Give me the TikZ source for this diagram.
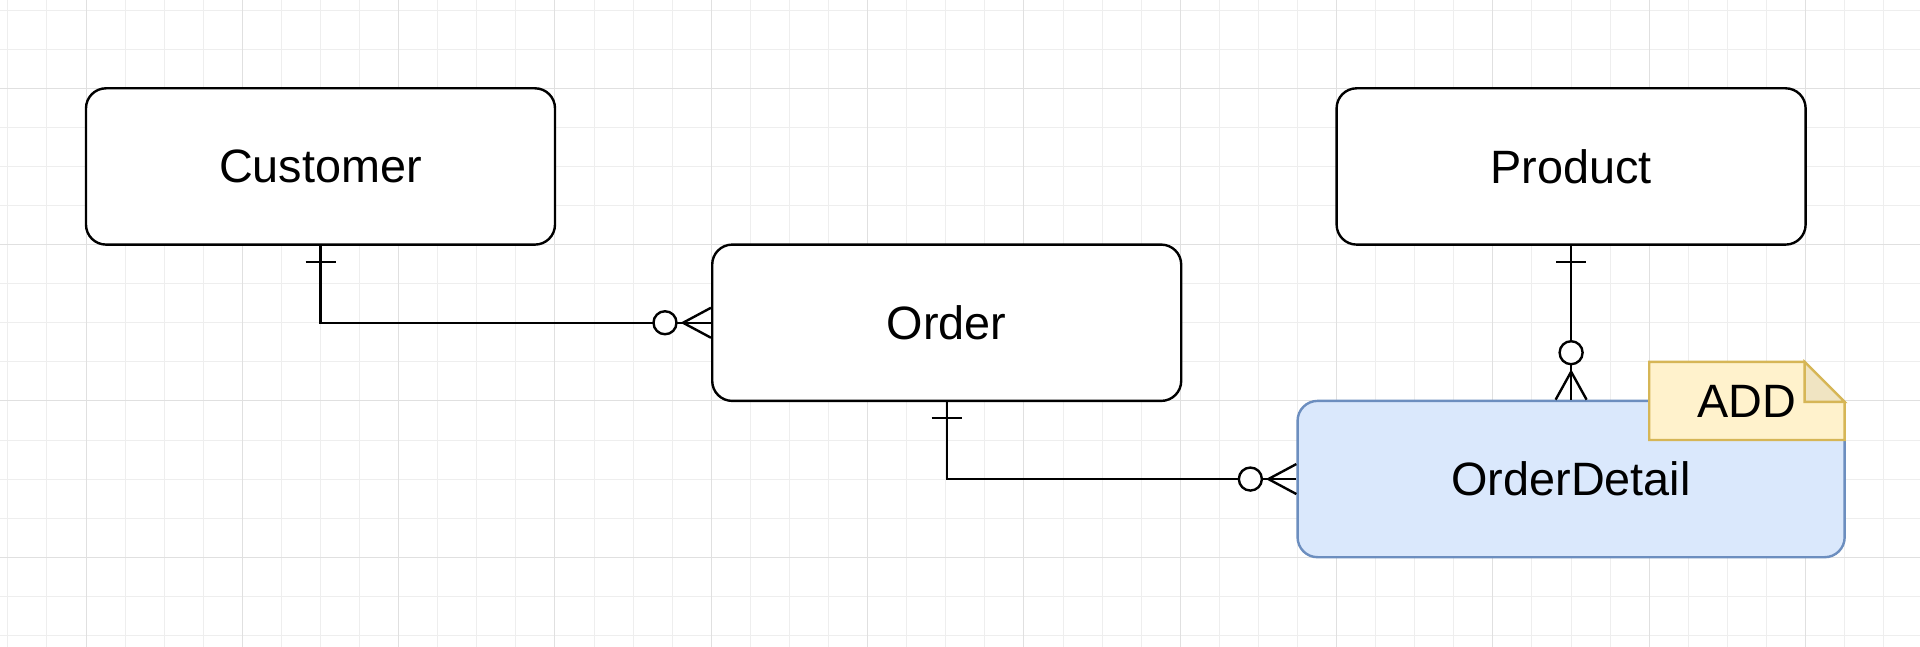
\documentclass[tikz,border=0pt]{standalone}
\usepackage{fontspec}
\setmainfont{Liberation Sans}
\usetikzlibrary{calc}
\definecolor{gridminor}{HTML}{EEEEEE}
\definecolor{gridmajor}{HTML}{E0E0E0}
\definecolor{bluefill}{HTML}{DAE8FC}
\definecolor{bluedraw}{HTML}{6C8EBF}
\definecolor{notefill}{HTML}{FFF2CC}
\definecolor{notedraw}{HTML}{D6B656}
\definecolor{notefold}{HTML}{F0E4C2}
\begin{document}
\begin{tikzpicture}[x=0.5pt,y=-0.5pt,
  lbl/.style={font=\fontsize{23.4}{28}\selectfont, text=black},
  entity/.style={lbl, draw=black, line width=1.2pt, rounded corners=10pt, fill=white,
    minimum width=234.5pt, minimum height=78.15pt, inner sep=0pt},
  rel/.style={draw=black, line width=1.2pt},
  zero/.style={draw=black, line width=1.2pt, fill=white},
  minorline/.style={draw=gridminor, line width=0.5pt},
  majorline/.style={draw=gridmajor, line width=0.5pt},
  notebox/.style={fill=notefill, draw=notedraw, line width=1.2pt, line join=miter},
  notefoldst/.style={fill=notefold, draw=notedraw, line width=1.2pt, line join=miter}
]
\useasboundingbox (0,0) rectangle (1920,647);
\fill[white] (0,0) rectangle (1920,647);
% grid
\foreach \k in {-2,...,46} \path[minorline] ({86+39.08*\k},0) -- ({86+39.08*\k},647);
\foreach \k in {-2,...,14} \path[minorline] (0,{88.3+39.08*\k}) -- (1920,{88.3+39.08*\k});
\foreach \k in {0,4,...,44} \path[majorline] ({86+39.08*\k},0) -- ({86+39.08*\k},647);
\foreach \k in {0,4,...,12} \path[majorline] (0,{88.3+39.08*\k}) -- (1920,{88.3+39.08*\k});

% entities
\node[entity] (customer) at (320.5,166.45) {Customer};
\node[entity] (order) at (946.7,322.75) {Order};
\node[entity] (product) at (1571.1,166.45) {Product};
\node[entity, fill=bluefill, draw=bluedraw, minimum width=273.55pt] (detail) at (1571.1,479.05) {OrderDetail};

% Customer -> Order
\draw[rel] (customer.south) |- (order.west);
\draw[rel] ($(customer.south)+(-15,16)$) -- ($(customer.south)+(15,16)$);
\coordinate (f1) at ($(order.west)+(-28,0)$);
\draw[rel] ($(order.west)+(0,-15)$) -- (f1) -- ($(order.west)+(0,15)$);
\path[zero] ($(order.west)+(-46,0)$) circle[radius=5.75pt];

% Order -> OrderDetail
\draw[rel] (order.south) |- (detail.west);
\draw[rel] ($(order.south)+(-15,16)$) -- ($(order.south)+(15,16)$);
\coordinate (f2) at ($(detail.west)+(-28,0)$);
\draw[rel] ($(detail.west)+(0,-15)$) -- (f2) -- ($(detail.west)+(0,15)$);
\path[zero] ($(detail.west)+(-46,0)$) circle[radius=5.75pt];

% Product -> OrderDetail
\draw[rel] (product.south) -- (detail.north);
\draw[rel] ($(product.south)+(-15,16)$) -- ($(product.south)+(15,16)$);
\coordinate (f3) at ($(detail.north)+(0,-28)$);
\draw[rel] ($(detail.north)+(-15.5,0)$) -- (f3) -- ($(detail.north)+(15.5,0)$);
\path[zero] ($(detail.north)+(0,-47)$) circle[radius=5.75pt];

% note
\coordinate (nnw) at (1649.2,361.9);
\coordinate (nse) at (1844.6,440);
\path[notebox] (nnw) -- (1804.6,361.9) -- (1844.6,401.9) -- (nse) -- (1649.2,440) -- cycle;
\path[notefoldst] (1804.6,361.9) -- (1804.6,401.9) -- (1844.6,401.9) -- cycle;
\node[lbl, inner sep=0pt] (note) at ($(nnw)!0.5!(nse)$) {ADD};
\end{tikzpicture}
\end{document}
